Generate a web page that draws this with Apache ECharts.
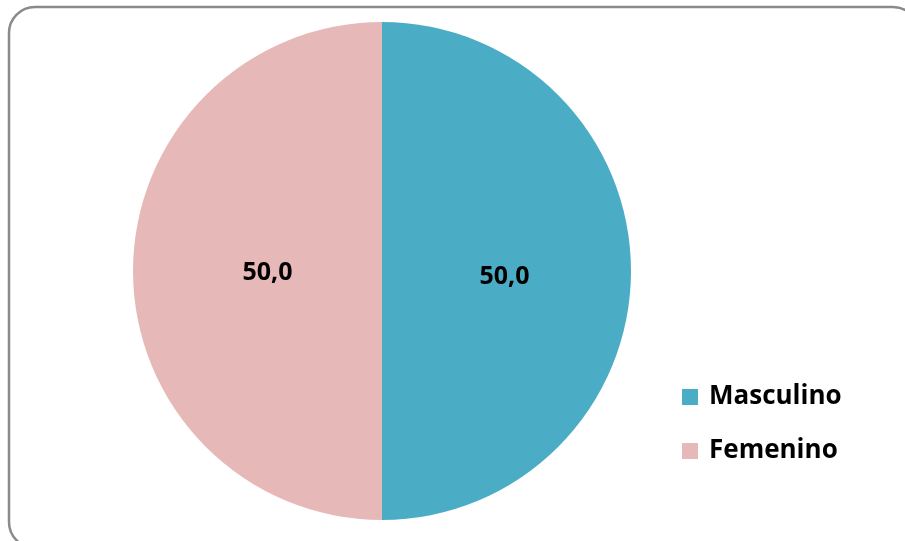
<!DOCTYPE html>
<html>
<head>
<meta charset="utf-8">
<script src="https://cdn.jsdelivr.net/npm/echarts@6/dist/echarts.min.js"></script>
<style>
  html, body { margin: 0; padding: 0; background: #ffffff; }
  #chart { width: 905px; height: 541px; }
</style>
</head>
<body>
<div id="chart"></div>
<script>
// Distribution by sex (percent)
const categories = ['Masculino', 'Femenino'];
const values = [50.0, 50.0];
const colors = ['#4BACC6', '#E6B9B8'];

// Per-slice nudges for the value labels
const labelOffsets = [[-5, 6], [13, 2]];

const chart = echarts.init(document.getElementById('chart'), null, { renderer: 'canvas' });

const fontFamily = '"Open Sans", Lato, sans-serif';

chart.setOption({
  backgroundColor: '#ffffff',
  animation: false,
  graphic: [{
    type: 'rect',
    shape: { x: 9, y: 7, width: 910, height: 541, r: 26 },
    style: { fill: 'none', stroke: '#8a8a8a', lineWidth: 2.5 },
    silent: true,
    z: -1
  }],
  legend: {
    orient: 'vertical',
    left: 677,
    top: 379,
    itemWidth: 16,
    itemHeight: 16,
    itemGap: 28,
    icon: 'rect',
    textStyle: { fontFamily, fontSize: 26, fontWeight: 'bold', color: '#000000', padding: [0, 0, 0, 6] },
    data: categories
  },
  series: [{
    type: 'pie',
    center: [382, 271],
    radius: [0, 249],
    startAngle: 90,
    clockwise: true,
    label: {
      show: true,
      position: 'inside',
      fontFamily,
      fontSize: 25,
      fontWeight: 'bold',
      color: '#000000',
      formatter: p => p.value.toFixed(1).replace('.', ',')
    },
    labelLine: { show: false },
    itemStyle: { borderWidth: 0 },
    emphasis: { disabled: true },
    data: categories.map((name, i) => ({
      name,
      value: values[i],
      itemStyle: { color: colors[i] },
      label: { offset: labelOffsets[i] }
    }))
  }]
});
</script>
</body>
</html>
